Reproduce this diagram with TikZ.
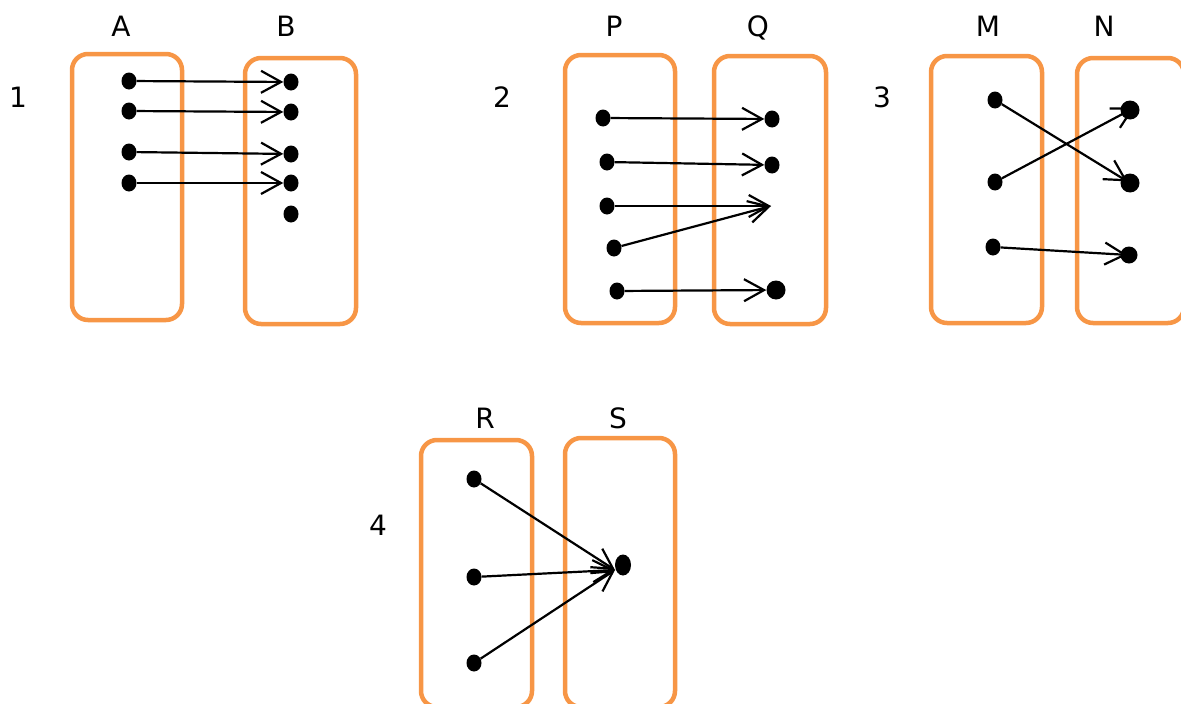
\documentclass[tikz,border=0pt]{standalone}
\usepackage{fontspec}
\setmainfont{DejaVu Sans}
\usetikzlibrary{arrows.meta,shapes.geometric}
\definecolor{setorange}{HTML}{F79646}
\begin{document}
\begin{tikzpicture}[x=1pt,y=-1pt,
  setbox/.style={draw=setorange,line width=4.5pt,rounded corners=16pt,inner sep=0pt},
  dot/.style={ellipse,fill=black,inner sep=0pt,minimum width=15pt,minimum height=17pt},
  bigdot/.style={dot,minimum width=19pt,minimum height=19pt},
  lbl/.style={font=\fontsize{28}{32}\selectfont,inner sep=0pt,anchor=base},
  map/.style={line width=2.2pt,-{Straight Barb[length=20pt,width=22pt]}}]
\useasboundingbox (0,0) rectangle (1181,704);

% ---------- panel 1 ----------
\node[setbox,minimum width=110pt,minimum height=266pt] (A) at (127,187) {};
\node[setbox,minimum width=111pt,minimum height=266pt] (B) at (300.5,191) {};
\node[lbl] (lA) at (121,36) {A};
\node[lbl] (lB) at (286,36) {B};
\node[lbl] (n1lbl) at (18,107) {1};
\node[dot] (a1) at (129,81) {};
\node[dot] (a2) at (129,111) {};
\node[dot] (a3) at (129,152) {};
\node[dot] (a4) at (129,183) {};
\node[dot] (b1) at (291,82) {};
\node[dot] (b2) at (291,112) {};
\node[dot] (b3) at (291,154) {};
\node[dot] (b4) at (291,183) {};
\node[dot] (b5) at (291,214) {};
\draw[map] (a1) -- (b1);
\draw[map] (a2) -- (b2);
\draw[map] (a3) -- (b3);
\draw[map] (a4) -- (b4);

% ---------- panel 2 ----------
\node[setbox,minimum width=110pt,minimum height=268pt] (P) at (620,189) {};
\node[setbox,minimum width=112pt,minimum height=268pt] (Q) at (770,190) {};
\node[lbl] (lP) at (614,36) {P};
\node[lbl] (lQ) at (758,36) {Q};
\node[lbl] (n2lbl) at (502,107) {2};
\node[dot] (p1) at (603,118) {};
\node[dot] (p2) at (607,162) {};
\node[dot] (p3) at (607,206) {};
\node[dot] (p4) at (614,248) {};
\node[dot] (p5) at (617,291) {};
\node[dot] (q1) at (772,119) {};
\node[dot] (q2) at (772,165) {};
\coordinate (q0) at (771,206);
\node[bigdot] (q3) at (776,290) {};
\draw[map] (p1) -- (q1);
\draw[map] (p2) -- (q2);
\draw[map] (p3) -- (q0);
\draw[map] (p4) -- (q0);
\draw[map] (p5) -- (q3);

% ---------- panel 3 ----------
\node[setbox,minimum width=111pt,minimum height=267pt] (M) at (986.5,189.5) {};
\node[setbox,minimum width=107pt,minimum height=265pt] (N) at (1130.5,190.5) {};
\node[lbl] (lM) at (988,36) {M};
\node[lbl] (lN) at (1104,36) {N};
\node[lbl] (n3lbl) at (882,107) {3};
\node[dot] (m1) at (995,100) {};
\node[dot] (m2) at (995,182) {};
\node[dot] (m3) at (993,247) {};
\node[bigdot] (n1) at (1130,110) {};
\node[bigdot] (n2) at (1130,183) {};
\node[dot,minimum width=17pt] (n3) at (1129,255) {};
\draw[map,shorten >=3pt] (m1) -- (n2.center);
\draw[map,shorten >=-5pt] (m2) -- (n1.center);
\draw[map,shorten >=2pt] (m3) -- (n3.center);

% ---------- panel 4 ----------
\node[setbox,minimum width=111pt,minimum height=267pt] (R) at (476.5,573.5) {};
\node[setbox,minimum width=110pt,minimum height=269pt] (S) at (620,572.5) {};
\node[lbl] (lR) at (485,428) {R};
\node[lbl] (lS) at (618,428) {S};
\node[lbl] (n4lbl) at (378,535) {4};
\node[dot] (r1) at (474,479) {};
\node[dot] (r2) at (474,577) {};
\node[dot] (r3) at (474,663) {};
\node[dot,minimum width=16pt,minimum height=21pt] (s1) at (623,565) {};
\coordinate (s0) at (615,570);
\draw[map] (r1) -- (s0);
\draw[map] (r2) -- (s0);
\draw[map] (r3) -- (s0);
\end{tikzpicture}
\end{document}
